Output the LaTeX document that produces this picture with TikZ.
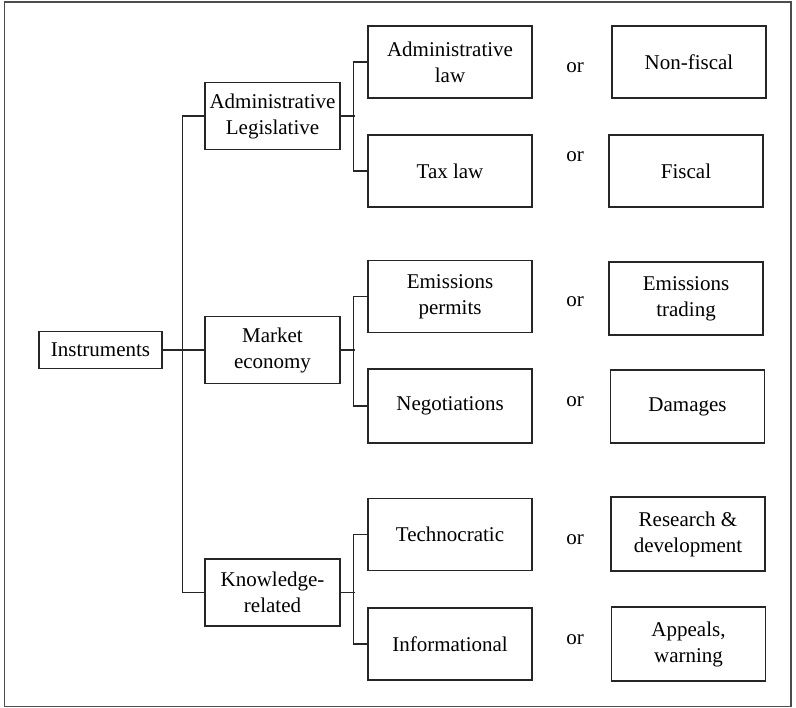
\documentclass[tikz,border=0pt]{standalone}
\usepackage{fontspec}
\setmainfont{Liberation Serif}
\usetikzlibrary{calc,positioning}

\begin{document}
\begin{tikzpicture}[x=1pt,y=-1pt,
every node/.style={font=\fontsize{21}{26}\selectfont, align=center, text=black},
root/.style={rectangle, draw=black!85, line width=1.1pt, minimum width=123pt, minimum height=37pt, inner sep=0pt},
group/.style={rectangle, draw=black!85, line width=1.1pt, minimum width=135pt, minimum height=67pt, inner sep=0pt},
tool/.style={rectangle, draw=black!85, line width=1.1pt, minimum width=164pt, minimum height=72pt, inner sep=0pt},
kind/.style={rectangle, draw=black!85, line width=1.1pt, minimum width=154pt, minimum height=72pt, inner sep=0pt},
link/.style={draw=black!85, line width=1.1pt},
info/.style={draw=none,fill=none,inner sep=0pt}]

%% local variables
\def \gx {272.5}
\def \tx {450}
\def \ox {575}
\def \kx {688}
\def \gap {14}

%% frame
\useasboundingbox (0,0) rectangle (796,708);
\draw[draw=black!70, line width=1.1pt] (4.5,2) rectangle (791,706.5);

%% root and the three groups
\node[root] (inst) at (100.5,350) {Instruments};
\node[group] (adm) at (\gx,116) {Administrative\\Legislative};
\node[group] (mkt) at (\gx,350) {Market\\economy};
\node[group] (know) at (\gx,592.5) {Knowledge-\\related};

%% instruments of each group
\node[tool] (adlaw) at (\tx,62) {Administrative\\law};
\node[tool] (tax) at (\tx,171) {Tax law};
\node[tool] (emp) at (\tx,296.5) {Emissions\\permits};
\node[tool, minimum height=74pt] (neg) at (\tx,406) {Negotiations};
\node[tool] (tech) at (\tx,534.5) {Technocratic};
\node[tool] (infm) at (\tx,644) {Informational};

%% alternatives
\node[kind] (nonfis) at (689,62) {Non-fiscal};
\node[kind] (fis) at (686,171) {Fiscal};
\node[kind, minimum height=73pt] (emtr) at (686,298.5) {Emissions\\trading};
\node[kind, minimum height=73pt] (dmg) at (687.5,406.5) {Damages};
\node[kind, minimum height=74pt] (rnd) at (\kx,534) {Research \&\\development};
\node[kind, minimum height=74pt] (appl) at (688.5,644) {Appeals,\\warning};

%% the "or" labels
\foreach \n/\y in {or-1/68, or-2/157, or-3/302, or-4/402, or-5/540, or-6/640}
      \node[info] (\n) at (\ox,\y) {or};

%% trunk from the root
\draw[link] (inst.east) -- (mkt.west);
\draw[link] (adm.west) -- ++(-22,0) |- (know.west);

%% brackets to the instruments
\foreach \g/\a/\b in {adm/adlaw/tax, mkt/emp/neg, know/tech/infm} {
      \draw[link] (\a.west) -- ++(-\gap,0) |- (\b.west);
      \draw[link] (\g.east) -- ++(\gap,0);
}

\end{tikzpicture}
\end{document}
